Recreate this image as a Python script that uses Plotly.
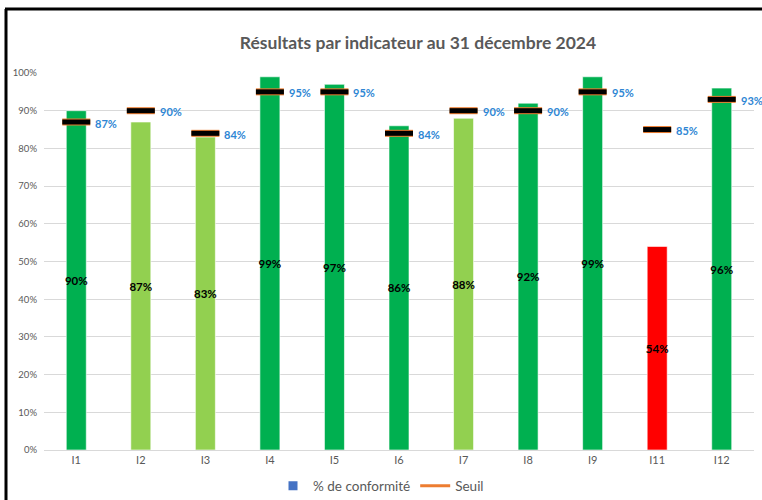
import plotly.graph_objects as go

categories = ["I1", "I2", "I3", "I4", "I5", "I6", "I7", "I8", "I9", "I11", "I12"]
conformite = [0.90, 0.87, 0.83, 0.99, 0.97, 0.86, 0.88, 0.92, 0.99, 0.54, 0.96]
seuil = [0.87, 0.90, 0.84, 0.95, 0.95, 0.84, 0.90, 0.90, 0.95, 0.85, 0.93]
bar_colors = ["#00B050", "#92D050", "#92D050", "#00B050", "#00B050", "#00B050",
              "#92D050", "#00B050", "#00B050", "#FF0000", "#00B050"]
y_ticks = [i / 10 for i in range(11)]
y_tick_labels = [f"{i*10}%" for i in range(11)]

FONT = "Lato, 'Open Sans', sans-serif"

# plot-area geometry in pixels
L, R, T, B = 44, 8, 73, 50
PW, PH = 762 - L - R, 500 - T - B

fig = go.Figure()

fig.add_trace(go.Bar(
    x=categories, y=conformite, width=0.31,
    marker=dict(color=bar_colors, line=dict(color="rgba(255,255,255,0.6)", width=1)),
    text=[f"{round(v*100)}%" for v in conformite],
    textposition="inside", insidetextanchor="middle", textangle=0,
    constraintext="none",
    textfont=dict(family=FONT, size=11.5, color="#000000", weight="bold"),
    showlegend=False, hoverinfo="skip", cliponaxis=False,
))

fig.add_trace(go.Scatter(
    x=categories, y=seuil, mode="markers",
    marker=dict(symbol="line-ew", size=20, line=dict(color="#ED7D31", width=7)),
    showlegend=False, hoverinfo="skip",
))
fig.add_trace(go.Scatter(
    x=categories, y=seuil, mode="markers",
    marker=dict(symbol="line-ew", size=20, line=dict(color="#000000", width=5)),
    showlegend=False, hoverinfo="skip",
))

for c, s in zip(categories, seuil):
    fig.add_annotation(
        x=c, y=s, text=f"{round(s*100)}%", showarrow=False,
        xanchor="left", yanchor="middle", xshift=17, yshift=-1,
        font=dict(family=FONT, size=11, color="#2E86D4", weight="bold"),
    )

# legend-only entries
fig.add_trace(go.Scatter(
    x=[None], y=[None], mode="markers", name="% de conformité",
    marker=dict(symbol="square", size=9, color="#4472C4"),
))
fig.add_trace(go.Scatter(
    x=[None], y=[None], mode="lines", name="Seuil",
    line=dict(color="#ED7D31", width=3),
))

fig.update_layout(
    width=762, height=500,
    margin=dict(l=L, r=R, t=T, b=B, autoexpand=False),
    paper_bgcolor="#FFFFFF", plot_bgcolor="#FFFFFF",
    font=dict(family=FONT, color="#595959"),
    title=dict(
        text="<b>Résultats par indicateur au 31 décembre 2024</b>",
        x=418 / 762, xanchor="center", xref="container",
        y=1 - 43 / 500, yanchor="middle", yref="container",
        font=dict(family=FONT, size=17.5, color="#595959"),
        automargin=False,
    ),
    xaxis=dict(
        type="category", categoryorder="array", categoryarray=categories,
        range=[-0.5, len(categories) - 0.5],
        showgrid=False, showline=True, linecolor="#D9D9D9", linewidth=1,
        ticks="", tickfont=dict(family=FONT, size=11, color="#595959"),
        fixedrange=True, automargin=False,
    ),
    yaxis=dict(
        range=[0, 1.0], tickvals=y_ticks, ticktext=y_tick_labels,
        showgrid=True, gridcolor="#D9D9D9", gridwidth=1,
        zeroline=False, showline=False, ticks="",
        tickfont=dict(family=FONT, size=9.5, color="#595959"),
        ticklabelstandoff=6,
        fixedrange=True, automargin=False,
    ),
    legend=dict(
        orientation="h", x=(381 - L) / PW, xanchor="center", xref="paper",
        y=-(486 - (T + PH)) / PH, yanchor="middle", yref="paper",
        font=dict(family=FONT, size=13.5, color="#595959"),
        itemwidth=30, tracegroupgap=0,
    ),
    shapes=[
        dict(type="line", xref="paper", yref="paper",
             x0=(5 - L) / PW, x1=(770 - L) / PW,
             y0=(T + PH - 9) / PH, y1=(T + PH - 9) / PH,
             line=dict(color="#000000", width=3)),
        dict(type="line", xref="paper", yref="paper",
             x0=(6 - L) / PW, x1=(6 - L) / PW,
             y0=-(B + 10) / PH, y1=(T + PH - 9) / PH,
             line=dict(color="#000000", width=3)),
    ],
)

fig.write_html("out.html", config={"displayModeBar": False},
               post_script="document.body.style.margin='0';document.body.style.overflow='hidden';")
